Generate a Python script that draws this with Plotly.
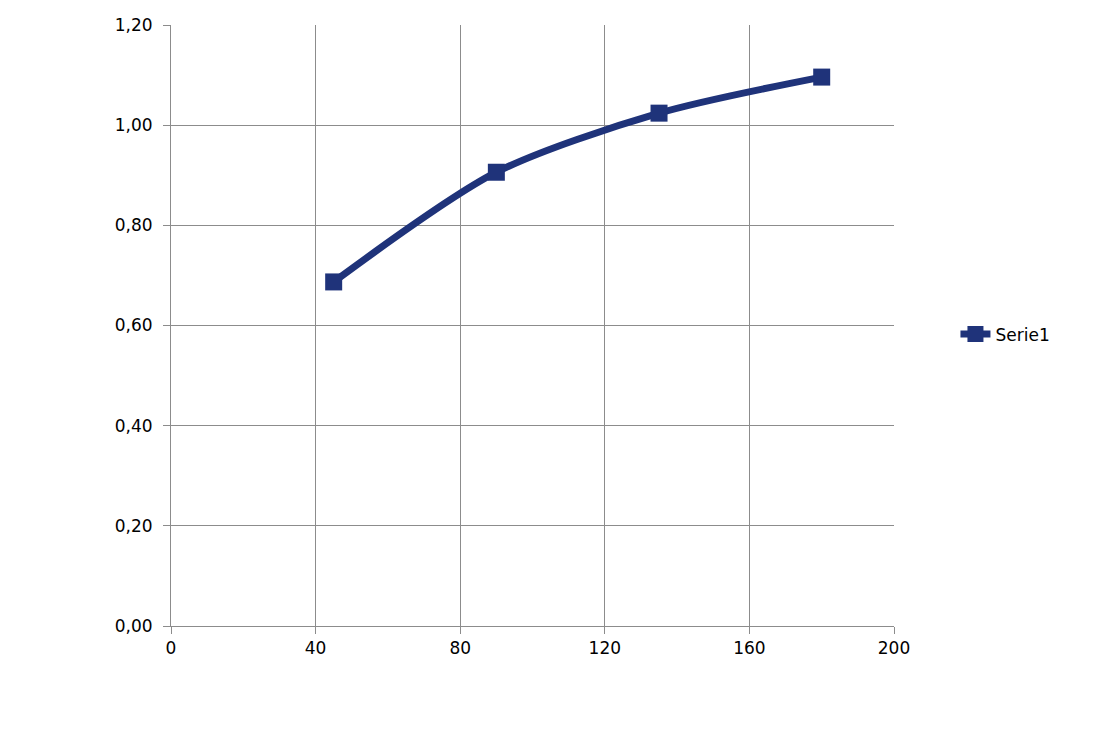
import plotly.graph_objects as go

x_vals = [45, 90, 135, 180]
y_vals = [0.687, 0.906, 1.024, 1.096]
series_name = "Serie1"
x_ticks = [0, 40, 80, 120, 160, 200]
y_ticks = [0.0, 0.2, 0.4, 0.6, 0.8, 1.0, 1.2]
y_tick_text = ["0,00", "0,20", "0,40", "0,60", "0,80", "1,00", "1,20"]

line_color = "#1f337a"
grid_color = "#8c8c8c"

fig = go.Figure()
fig.add_trace(go.Scatter(
    x=x_vals, y=y_vals, name=series_name,
    mode="lines+markers",
    line=dict(color=line_color, width=7, shape="spline", smoothing=0.8),
    marker=dict(symbol="square", size=17, color=line_color),
))

fig.update_layout(
    width=1110, height=735,
    margin=dict(l=163, r=224, t=17, b=117, autoexpand=False),
    paper_bgcolor="white", plot_bgcolor="white",
    font=dict(family="DejaVu Sans, sans-serif", size=17, color="#000000"),
    showlegend=True,
    legend=dict(x=1.085, y=0.485, xanchor="left", yanchor="middle",
                font=dict(size=17), itemwidth=30, bgcolor="rgba(0,0,0,0)"),
    xaxis=dict(range=[0, 200], tickvals=x_ticks, ticktext=[str(v) for v in x_ticks],
               showgrid=True, gridcolor=grid_color, gridwidth=1,
               showline=True, linecolor=grid_color, linewidth=1,
               ticks="outside", ticklen=7, tickcolor=grid_color,
               zeroline=False, fixedrange=True, automargin=False),
    yaxis=dict(range=[0, 1.2], tickvals=y_ticks, ticktext=y_tick_text,
               showgrid=True, gridcolor=grid_color, gridwidth=1,
               showline=True, linecolor=grid_color, linewidth=1,
               ticks="outside", ticklen=7, tickcolor=grid_color,
               ticklabelstandoff=7,
               zeroline=False, fixedrange=True, automargin=False),
)

fig.write_html("out.html")
